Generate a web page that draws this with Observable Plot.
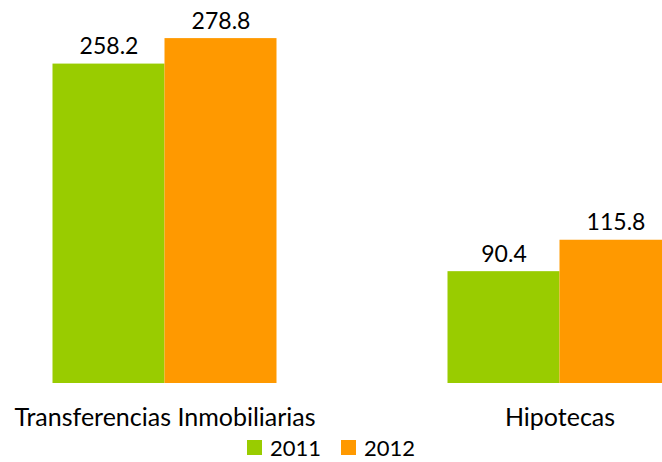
<!DOCTYPE html>
<html>
<head>
<meta charset="utf-8">
<script src="https://cdn.jsdelivr.net/npm/d3@7"></script>
<script src="https://cdn.jsdelivr.net/npm/@observablehq/plot@0.6"></script>
<style>
  body { margin: 0; overflow: hidden; background: white; font-family: Lato, "Open Sans", sans-serif; }
  #legend { display: flex; justify-content: center; align-items: center; height: 30px; font-size: 22px; color: #000; }
  .item { display: flex; align-items: center; margin: 0 10px; }
  .sw { width: 15px; height: 15px; margin-right: 8px; }
</style>
</head>
<body>
<div id="chart"></div>
<div id="legend"></div>
<script>
const categories = ["Transferencias Inmobiliarias", "Hipotecas"];
const years = ["2011", "2012"];
const values2011 = [258.2, 90.4];
const values2012 = [278.8, 115.8];
const colors = ["#99CC00", "#FF9900"];

const data = [];
categories.forEach((c, i) => {
  data.push({category: c, year: years[0], value: values2011[i]});
  data.push({category: c, year: years[1], value: values2012[i]});
});

const chart = Plot.plot({
  width: 662,
  height: 432,
  marginLeft: -33.5,
  marginRight: -94.5,
  marginTop: 0,
  marginBottom: 49,
  style: {fontFamily: "Lato, 'Open Sans', sans-serif", fontSize: "22px", color: "#000", overflow: "hidden"},
  fx: {domain: categories, padding: 0, axis: null, label: null},
  x: {domain: years, paddingInner: 0, paddingOuter: 0.748, axis: null, label: null},
  y: {domain: [0, 309.6], axis: null, label: null},
  color: {domain: years, range: colors},
  marks: [
    Plot.barY(data, {fx: "category", x: "year", y: "value", fill: "year"}),
    Plot.text(data, {fx: "category", x: "year", y: "value", text: d => d.value.toFixed(1), lineAnchor: "bottom", dy: -10, fontSize: 23, fill: "#000"}),
    Plot.text(categories, {fx: d => d, text: d => d, frameAnchor: "bottom", lineAnchor: "bottom", dy: 42, fontSize: 25, fill: "#000"})
  ]
});
document.getElementById("chart").appendChild(chart);

const legend = document.getElementById("legend");
years.forEach((y, i) => {
  const item = document.createElement("div");
  item.className = "item";
  const sw = document.createElement("div");
  sw.className = "sw";
  sw.style.background = colors[i];
  const t = document.createElement("span");
  t.textContent = y;
  item.appendChild(sw);
  item.appendChild(t);
  legend.appendChild(item);
});
</script>
</body>
</html>
